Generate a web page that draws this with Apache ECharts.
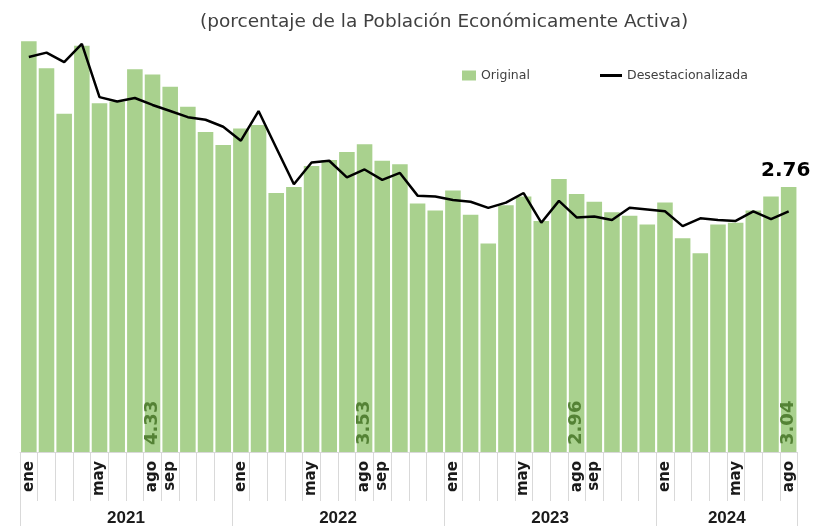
<!DOCTYPE html>
<html><head><meta charset="utf-8">
<script src="https://cdn.jsdelivr.net/npm/echarts@6/dist/echarts.min.js"></script>
<style>html,body{margin:0;padding:0;background:#fff}#c{width:820px;height:527px}</style>
</head><body><div id="c"></div>
<script>
const months = ['ene','feb','mar','abr','may','jun','jul','ago','sep','oct','nov','dic'];
const years = ['2021','2022','2023','2024'];
const categories = [];
years.forEach(y => months.forEach(m => { if (categories.length < 44) categories.push(m + ' ' + y); }));
const shownMonths = ['ene','may','ago','sep'];
const original = [4.71,4.40,3.88,4.66,4.00,4.02,4.39,4.33,4.19,3.96,3.67,3.52,
                  3.71,3.75,2.97,3.04,3.28,3.35,3.44,3.53,3.34,3.30,2.85,2.77,
                  3.00,2.72,2.39,2.83,2.93,2.65,3.13,2.96,2.87,2.75,2.71,2.61,
                  2.86,2.45,2.28,2.61,2.63,2.77,2.93,3.04];
const desest = [4.53,4.58,4.47,4.68,4.07,4.02,4.06,3.98,3.91,3.84,3.81,3.73,
                3.57,3.91,3.49,3.07,3.32,3.34,3.15,3.24,3.12,3.20,2.94,2.93,
                2.89,2.87,2.80,2.86,2.97,2.63,2.88,2.69,2.70,2.66,2.80,2.78,
                2.76,2.59,2.68,2.66,2.65,2.76,2.67,2.76];
const labeledBars = [7,19,31,43];
const yearTicks = [0,12,24,36,44];
const yearLabelPos = [6,18,30,40];

const chart = echarts.init(document.getElementById('c'));
const font = '"DejaVu Sans", sans-serif';
const legendText = { fontFamily: font, fontSize: 12.5, color: '#404040' };
chart.setOption({
  animation: false,
  title: { text: '(porcentaje de la Población Económicamente Activa)', left: 195, top: 8,
    textStyle: { fontFamily: font, fontSize: 18.5, fontWeight: 'normal', color: '#404040' } },
  legend: [
    { left: 462, top: 69, padding: 0, itemWidth: 14, itemHeight: 10, textStyle: legendText,
      data: [{ name: 'Original', icon: 'rect' }] },
    { left: 600, top: 69, padding: 0, itemWidth: 22, itemHeight: 3, textStyle: legendText,
      data: [{ name: 'Desestacionalizada', icon: 'rect', itemStyle: { color: '#000' } }] }
  ],
  grid: { left: 20, right: 22.5, top: 16, bottom: 74 },
  xAxis: [{
    type: 'category', data: categories, boundaryGap: true,
    axisLine: { lineStyle: { color: '#d9d9d9' } },
    axisTick: { show: true, interval: 0, length: 49, lineStyle: { color: '#d9d9d9' } },
    axisLabel: { interval: 0, rotate: 90, margin: 9, fontFamily: font, fontSize: 15, fontWeight: 'bold', color: '#1a1a1a',
      formatter: v => { const m = v.split(' ')[0]; return shownMonths.includes(m) ? m : ''; } }
  }, {
    type: 'value', min: 0, max: 44, position: 'bottom', offset: 0,
    axisLine: { show: false }, splitLine: { show: false },
    axisTick: { show: true, customValues: yearTicks, length: 74, lineStyle: { color: '#d9d9d9' } },
    axisLabel: { customValues: yearLabelPos, margin: 58, fontFamily: '"Liberation Sans", sans-serif', fontSize: 17, fontWeight: 'bold', color: '#1a1a1a',
      formatter: v => years[yearLabelPos.indexOf(v)] || '' }
  }],
  yAxis: { type: 'value', min: 0, max: 5, show: false, splitLine: { show: false } },
  series: [{
    name: 'Original', type: 'bar', data: original, barCategoryGap: '12%',
    itemStyle: { color: '#a9d18e' },
    label: { show: true, position: 'insideBottom', rotate: 90, align: 'left', verticalAlign: 'middle', distance: 7,
      fontFamily: font, fontSize: 18, fontWeight: 'bold', color: '#548235',
      formatter: p => labeledBars.includes(p.dataIndex) ? p.value.toFixed(2) : '' }
  }, {
    name: 'Desestacionalizada', type: 'line', data: desest, symbol: 'circle', symbolSize: 0.1, showSymbol: true,
    lineStyle: { color: '#000', width: 2.5 }, itemStyle: { color: '#000' },
    label: { show: true, position: 'top', distance: 30, offset: [-3, 0], fontFamily: font, fontSize: 20, fontWeight: 'bold', color: '#000',
      formatter: p => p.dataIndex === desest.length - 1 ? p.value.toFixed(2) : '' },
    z: 5
  }]
});
</script></body></html>
